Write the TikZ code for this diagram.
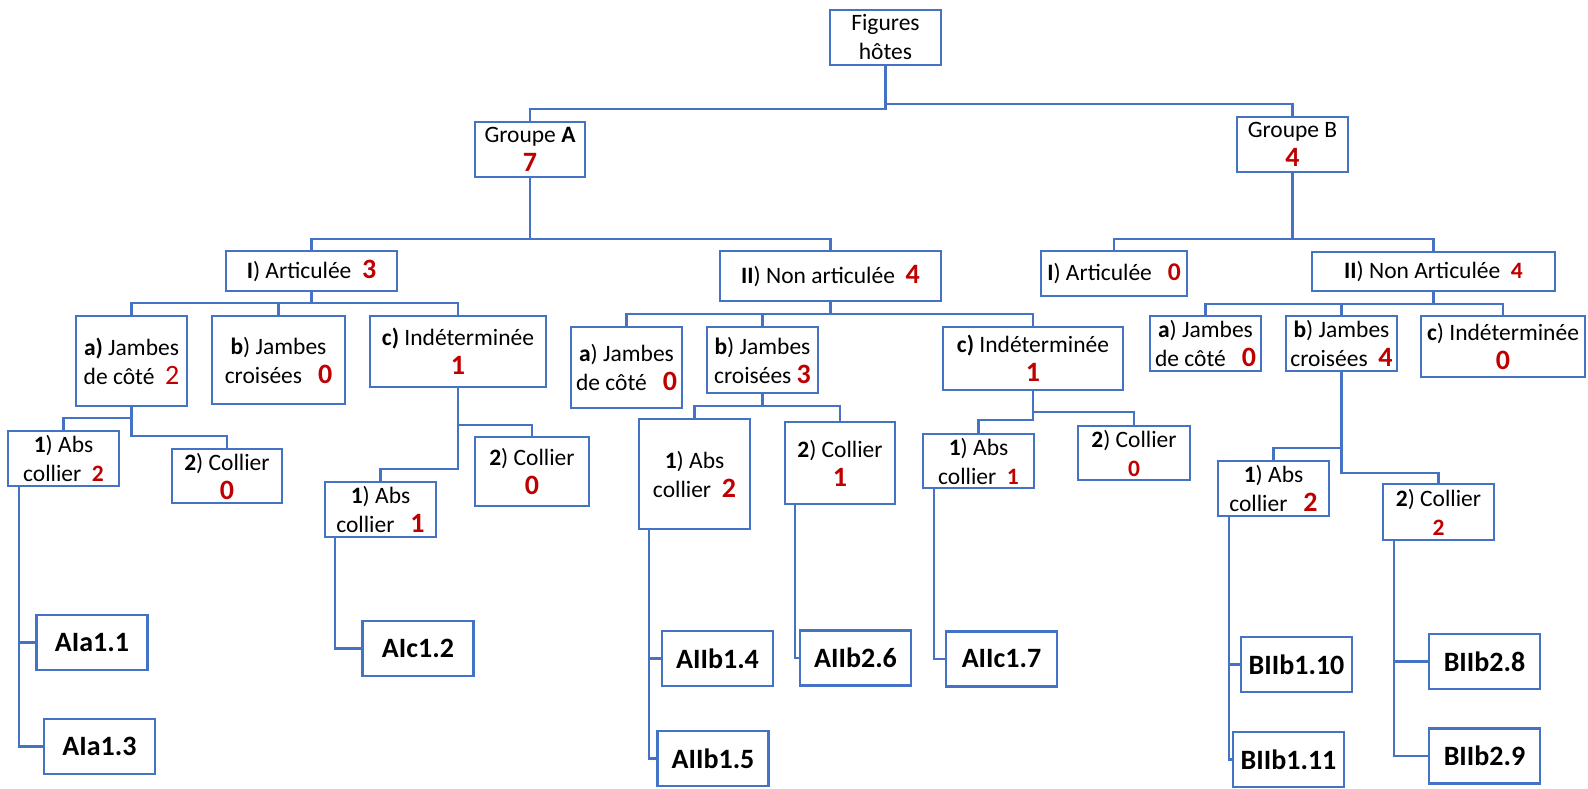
\documentclass[tikz,border=0pt]{standalone}
\usepackage{fontspec}
\setmainfont{Carlito}
\usepackage{tikz}
\definecolor{boxblue}{HTML}{4472C4}
\definecolor{numred}{HTML}{C00000}
\newcommand{\bignum}[1]{{\color{numred}\bfseries\fontsize{28}{28}\selectfont #1}}
\newcommand{\midnum}[1]{{\color{numred}\bfseries\fontsize{25.5}{28}\selectfont #1}}
\newcommand{\smallnum}[1]{{\color{numred}\bfseries #1}}
\newcommand{\plainnum}[1]{{\color{numred}\fontsize{28}{28}\selectfont #1}}

\begin{document}
\begin{tikzpicture}[x=1pt,y=-1pt,
    font=\fontsize{23.5}{29}\selectfont,
    box/.style={draw=boxblue,line width=2.2pt,fill=white,inner sep=0pt,align=center},
    wh/.style 2 args={minimum width=#1pt,minimum height=#2pt},
    leaf/.style={box,wh={111}{55},font=\fontsize{28}{30}\selectfont\bfseries},
    wire/.style={boxblue,line width=2.2pt}]
  \useasboundingbox (0,0) rectangle (1588,789);

  % top levels
  \node[box,wh={111}{55}] (root) at (885.5,37.5) {Figures\\hôtes};
  \node[box,wh={110}{55}] (gA) at (530,149.5) {Groupe \textbf{A}\\\bignum{7}};
  \node[box,wh={111}{55}] (gB) at (1292.5,144.5) {Groupe B\\\bignum{4}};

  \node[box,wh={171}{40}] (AI) at (311.5,271) {\textbf{I}) Articulée\ \ \bignum{3}};
  \node[box,wh={221}{50}] (AII) at (830.5,276) {\textbf{II}) Non articulée\ \ \bignum{4}};
  \node[box,wh={146}{45}] (BI) at (1114,273.5) {\textbf{I}) Articulée\ \ \ \midnum{0}};
  \node[box,wh={243}{39}] (BII) at (1433.5,271.5) {\textbf{II}) Non Articulée\ \ \smallnum{4}};

  % legs
  \node[box,wh={111}{90}] (AIa) at (131.5,361) {\textbf{a)} Jambes\\de côté\ \ \plainnum{2}};
  \node[box,wh={133}{88}] (AIb) at (278.5,360) {\textbf{b}) Jambes\\croisées\ \ \ \bignum{0}};
  \node[box,wh={176}{71}] (AIc) at (458,351.5) {\textbf{c)} Indéterminée\\\bignum{1}};
  \node[box,wh={111}{81}] (AIIa) at (626.5,367.5) {\textbf{a}) Jambes\\de côté\ \ \ \bignum{0}};
  \node[box,wh={111}{66}] (AIIb) at (762.5,360) {\textbf{b}) Jambes\\croisées\ \bignum{3}};
  \node[box,wh={180}{63}] (AIIc) at (1033,358.5) {\textbf{c)} Indéterminée\\\bignum{1}};
  \node[box,wh={111}{55}] (BIIa) at (1205.5,343.5) {\textbf{a}) Jambes\\de côté\ \ \ \bignum{0}};
  \node[box,wh={111}{55}] (BIIb) at (1341.5,343.5) {\textbf{b}) Jambes\\croisées\ \ \bignum{4}};
  \node[box,wh={164}{61}] (BIIc) at (1503,346.5) {\textbf{c}) Indéterminée\\\bignum{0}};

  % collier
  \node[box,wh={111}{55}] (AIa1) at (63.5,458.5) {\textbf{1}) Abs\\collier\ \ \smallnum{2}};
  \node[box,wh={110}{54}] (AIa2) at (227,476) {\textbf{2}) Collier\\\bignum{0}};
  \node[box,wh={111}{55}] (AIc1) at (380.5,509.5) {\textbf{1}) Abs\\collier\ \ \ \bignum{1}};
  \node[box,wh={114}{69}] (AIc2) at (532,471.5) {\textbf{2}) Collier\\\bignum{0}};
  \node[box,wh={111}{110}] (AIIb1) at (694.5,474) {\textbf{1}) Abs\\collier\ \ \bignum{2}};
  \node[box,wh={110}{82}] (AIIb2) at (840,463) {\textbf{2}) Collier\\\bignum{1}};
  \node[box,wh={111}{54}] (AIIc1) at (978.5,461) {\textbf{1}) Abs\\collier\ \ \smallnum{1}};
  \node[box,wh={112}{54}] (AIIc2) at (1134,453) {\textbf{2}) Collier\\\smallnum{0}};
  \node[box,wh={111}{55}] (BIIb1) at (1273.5,488.5) {\textbf{1}) Abs\\collier\ \ \ \bignum{2}};
  \node[box,wh={111}{56}] (BIIb2) at (1438.5,512) {\textbf{2}) Collier\\\smallnum{2}};

  % figures
  \node[leaf] (AIa11) at (92,642.5) {AIa1.1};
  \node[leaf] (AIa13) at (99.5,746.5) {AIa1.3};
  \node[leaf] (AIc12) at (418,648.5) {AIc1.2};
  \node[leaf] (AIIb14) at (717.5,658.5) {AIIb1.4};
  \node[leaf] (AIIb15) at (713,758.5) {AIIb1.5};
  \node[leaf] (AIIb26) at (855.5,658) {AIIb2.6};
  \node[leaf] (AIIc17) at (1001.5,659) {AIIc1.7};
  \node[leaf] (BIIb110) at (1296.5,664.5) {BIIb1.10};
  \node[leaf] (BIIb111) at (1288.5,759.5) {BIIb1.11};
  \node[leaf] (BIIb28) at (1484.5,661.5) {BIIb2.8};
  \node[leaf] (BIIb29) at (1484.5,756) {BIIb2.9};

  % tree lines
  \draw[wire] (root.south) -- ++(0,43) -| (gA.north);
  \draw[wire] (root.south) -- ++(0,38) -| (gB.north);
  \draw[wire] (gA.south) -- ++(0,61) -| (AI.north);
  \draw[wire] (gA.south) -- ++(0,61) -| (AII.north);
  \draw[wire] (gB.south) -- ++(0,66) -| (BI.north);
  \draw[wire] (gB.south) -- ++(0,66) -| (BII.north);

  \draw[wire] (AI.south) -- ++(0,11) -| (AIa.north);
  \draw[wire] (AI.south) -- ++(0,11) -| (AIb.north);
  \draw[wire] (AI.south) -- ++(0,11) -| (AIc.north);
  \draw[wire] (AII.south) -- ++(0,12) -| (AIIa.north);
  \draw[wire] (AII.south) -- ++(0,12) -| (AIIb.north);
  \draw[wire] (AII.south) -- ++(0,12) -| (AIIc.north);
  \draw[wire] (BII.south) -- ++(0,12) -| (BIIa.north);
  \draw[wire] (BII.south) -- ++(0,12) -| (BIIb.north);
  \draw[wire] (BII.south) -- ++(0,12) -| (BIIc.north);

  \draw[wire] (AIa.south) -- ++(0,11) -| (AIa1.north);
  \draw[wire] (AIa.south) -- ++(0,29) -| (AIa2.north);
  \draw[wire] (AIc.south) -- ++(0,37) -| (AIc2.north);
  \draw[wire] (AIc.south) -- ++(0,81) -| (AIc1.north);
  \draw[wire] (AIIb.south) -- ++(0,12) -| (AIIb1.north);
  \draw[wire] (AIIb.south) -- ++(0,12) -| (AIIb2.north);
  \draw[wire] (AIIc.south) -- ++(0,21) -| (AIIc2.north);
  \draw[wire] (AIIc.south) -- ++(0,29) -| (AIIc1.north);
  \draw[wire] (BIIb.south) -- ++(0,76) -| (BIIb1.north);
  \draw[wire] (BIIb.south) -- ++(0,101) -| (BIIb2.north);

  \draw[wire] ([xshift=12pt]AIa1.south west) |- (AIa11.west);
  \draw[wire] ([xshift=12pt]AIa1.south west) |- (AIa13.west);
  \draw[wire] ([xshift=11pt]AIc1.south west) |- (AIc12.west);
  \draw[wire] ([xshift=11pt]AIIb1.south west) |- (AIIb14.west);
  \draw[wire] ([xshift=11pt]AIIb1.south west) |- (AIIb15.west);
  \draw[wire] ([xshift=11pt]AIIb2.south west) |- (AIIb26.west);
  \draw[wire] ([xshift=12pt]AIIc1.south west) |- (AIIc17.west);
  \draw[wire] ([xshift=12pt]BIIb1.south west) |- (BIIb110.west);
  \draw[wire] ([xshift=12pt]BIIb1.south west) |- (BIIb111.west);
  \draw[wire] ([xshift=12pt]BIIb2.south west) |- (BIIb28.west);
  \draw[wire] ([xshift=12pt]BIIb2.south west) |- (BIIb29.west);
\end{tikzpicture}
\end{document}
